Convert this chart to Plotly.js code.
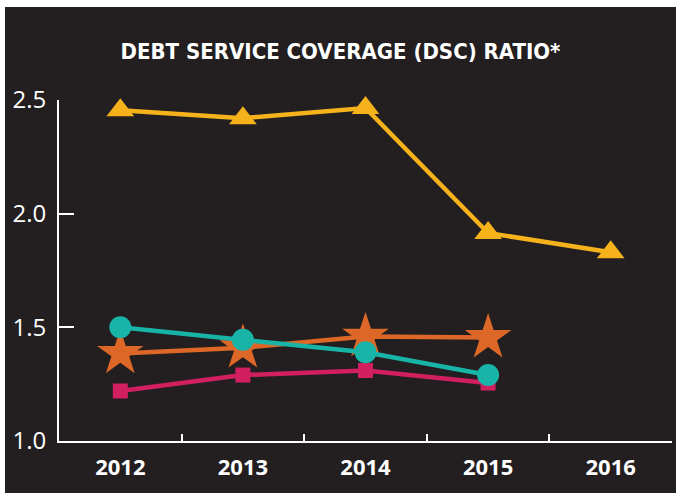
<!DOCTYPE html>
<html>
<head>
<meta charset="utf-8">
<script src="https://cdn.plot.ly/plotly-3.0.1.min.js"></script>
<style>
  html, body { margin: 0; padding: 0; background: #ffffff; width: 676px; height: 493px; overflow: hidden; }
  #chart { position: absolute; left: 5px; top: 7px; width: 671px; height: 486px; }
</style>
</head>
<body>
<div id="chart"></div>
<script>
const years = ['2012', '2013', '2014', '2015', '2016'];
const yellowSeries = [2.455, 2.42, 2.465, 1.915, 1.83];
const tealSeries = [1.50, 1.445, 1.39, 1.29];
const orangeSeries = [1.385, 1.41, 1.46, 1.455];
const pinkSeries = [1.22, 1.29, 1.31, 1.255];
const yTicks = [1.0, 1.5, 2.0, 2.5];
const titleText = 'DEBT SERVICE COVERAGE (DSC) RATIO*';

function series(y, color, symbol, size) {
  return {
    x: years.slice(0, y.length), y: y, type: 'scatter', mode: 'lines+markers',
    line: { color: color, width: 4.5 },
    marker: { color: color, symbol: symbol, size: size, line: { width: 0 } },
    cliponaxis: false, hoverinfo: 'skip', showlegend: false
  };
}

const data = [
  series(yellowSeries, '#f6b21b', 'triangle-up', 24),
  series(pinkSeries, '#d11f5f', 'square', 15),
  series(orangeSeries, '#dd6727', 'star', 35),
  series(tealSeries, '#19b4a8', 'circle', 22)
];

const layout = {
  width: 671, height: 486,
  paper_bgcolor: '#231f20', plot_bgcolor: '#231f20',
  margin: { l: 54, r: 4, t: 93, b: 52 },
  title: {
    text: '<b>' + titleText + '</b>',
    font: { family: 'DejaVu Sans Condensed, sans-serif', size: 22, color: '#ffffff' },
    x: 0.5, xanchor: 'center', xref: 'container',
    y: 0.908, yanchor: 'middle', yref: 'container'
  },
  xaxis: {
    type: 'category', categoryorder: 'array', categoryarray: years,
    range: [-0.5, 4.5], tickson: 'boundaries', ticks: 'inside', ticklen: 7, tickwidth: 2, tickcolor: '#ffffff',
    showline: true, linecolor: '#ffffff', linewidth: 2, showgrid: false, zeroline: false,
    tickfont: { family: 'Open Sans, sans-serif', size: 22, color: '#ffffff', weight: 'bold' },
    ticklabelstandoff: 6, fixedrange: true
  },
  yaxis: {
    range: [1.0, 2.5], tickvals: yTicks, ticktext: yTicks.map(v => v.toFixed(1)),
    ticks: 'inside', ticklen: 15, tickwidth: 2, tickcolor: '#ffffff',
    showline: true, linecolor: '#ffffff', linewidth: 2, showgrid: false, zeroline: false,
    tickfont: { family: 'Open Sans, sans-serif', size: 24, color: '#ffffff' },
    ticklabelstandoff: 6, fixedrange: true
  }
};

Plotly.newPlot('chart', data, layout, { staticPlot: true, displayModeBar: false });
</script>
</body>
</html>
